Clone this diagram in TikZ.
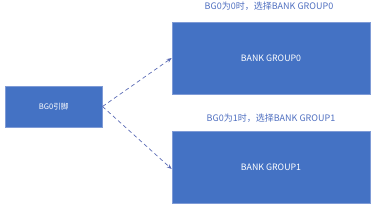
\documentclass[tikz,border=0pt]{standalone}
\usepackage{fontspec}
\setmainfont{Noto Sans CJK SC}
\usetikzlibrary{arrows.meta}
\definecolor{boxblue}{HTML}{4472C4}
\definecolor{boxedge}{HTML}{7F9BD6}
\definecolor{lblblue}{HTML}{4F6FC0}
\definecolor{arrowc}{HTML}{5B6BB5}
\tikzset{
  bluebox/.style={draw=boxedge, line width=0.6pt, fill=boxblue, text=white, inner sep=0pt},
  lbl/.style={text=lblblue, font=\fontsize{9}{10}\selectfont, inner sep=0pt},
  conn/.style={draw=arrowc, line width=0.7pt, dash pattern=on 4pt off 3pt, -{Stealth[length=5pt,width=4pt]}}
}
\begin{document}
\begin{tikzpicture}[x=1pt,y=-1pt]
\useasboundingbox (0,0) rectangle (375,210);
\node[bluebox, minimum width=97pt, minimum height=41pt, font=\fontsize{7.6}{8}\selectfont] (pin) at (53.7,106.5) {BG0引脚};
\node[bluebox, minimum width=198pt, minimum height=72pt, font=\fontsize{8.8}{10}\selectfont] (g0) at (271,58) {BANK GROUP0};
\node[bluebox, minimum width=198pt, minimum height=72pt, font=\fontsize{8.8}{10}\selectfont] (g1) at (271,167) {BANK GROUP1};
\node[lbl] (l0) at (269,6) {BG0为0时，选择BANK GROUP0};
\node[lbl] (l1) at (271,118) {BG0为1时，选择BANK GROUP1};
\draw[conn] (pin.east) -- (g0.west);
\draw[conn] (pin.east) -- ([yshift=-2pt]g1.west);
\end{tikzpicture}
\end{document}
